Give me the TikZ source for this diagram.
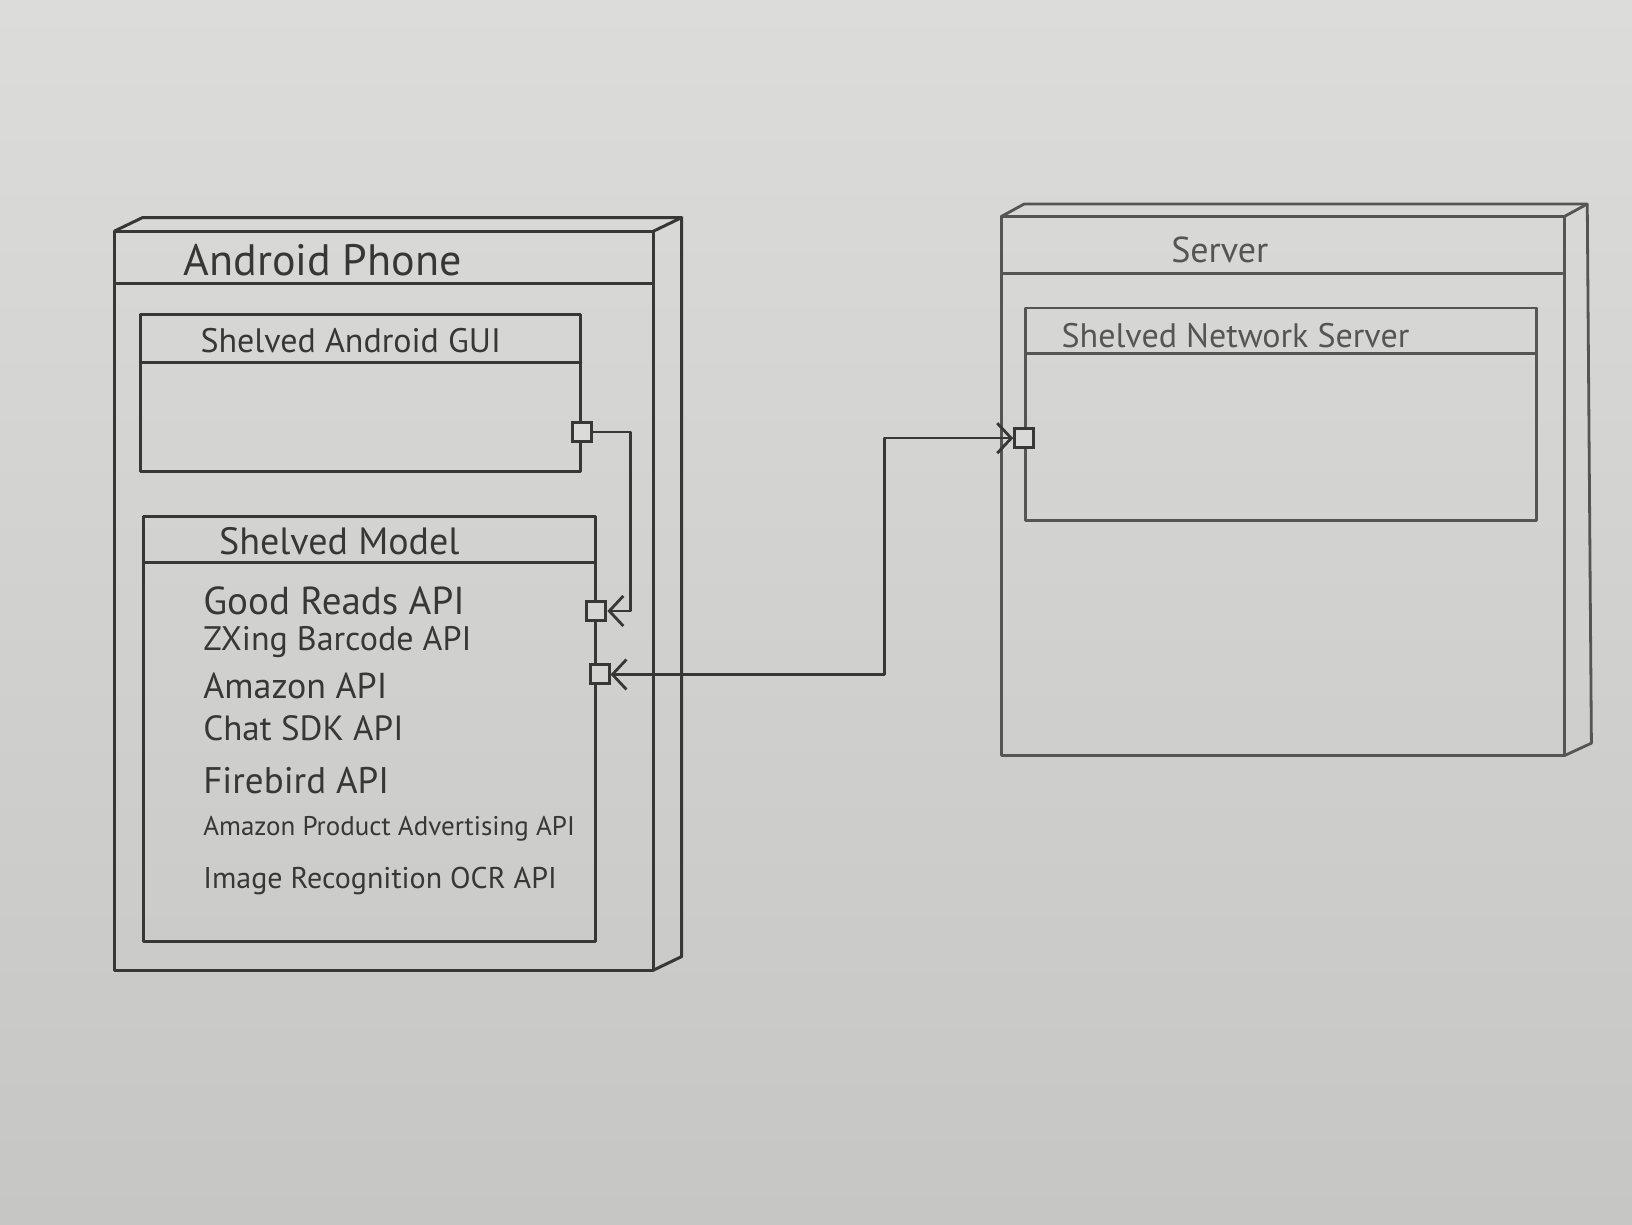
\documentclass[tikz,border=0pt]{standalone}
\usepackage{fontspec}
\setmainfont{PT Sans}
\usetikzlibrary{arrows.meta,fit,calc}
\definecolor{paperTop}{RGB}{220,220,218}
\definecolor{paperBot}{RGB}{198,198,196}
\definecolor{pencil}{RGB}{55,55,55}
\definecolor{pencilLight}{RGB}{85,85,85}
\tikzset{
  pen/.style={draw=pencil, line width=1.5pt, line cap=round, line join=round},
  penlight/.style={draw=pencilLight, line width=1.4pt, line cap=round, line join=round},
  fitbox/.style={inner sep=0pt, outer sep=0pt},
  portbox/.style={draw=pencil, line width=1.5pt, minimum size=9.5pt, inner sep=0pt},
  conn/.style={draw=pencil, line width=1.3pt, line join=round},
  barb/.tip={Straight Barb[length=7pt,width=15pt,line width=1.4pt]},
  ttl/.style={text=pencil, font=\fontsize{22}{24}\selectfont},
  ctl/.style={text=pencil, font=\fontsize{17}{19}\selectfont},
  api/.style={text=pencil, anchor=west, inner sep=0pt}
}
\newcommand\fsz[1]{\fontsize{#1}{#1}\selectfont}
\begin{document}
\begin{tikzpicture}[x=0.5204pt,y=-0.5204pt]
\shade[top color=paperTop, bottom color=paperBot] (0,0) rectangle (1568,1176);
\useasboundingbox (0,0) rectangle (1568,1176);

% ---------- Android Phone node ----------
\node[fitbox, fit={(110,222) (628,932)}] (phone) {};
\draw[pen] (phone.north west) rectangle (phone.south east);
\draw[pen] (phone.north west) -- ++(27,-13) -- ($(phone.north east)+(27,-13)$)
           -- ($(phone.south east)+(27,-13)$) -- (phone.south east);
\draw[pen] (phone.north east) -- ++(27,-13);
\draw[pen] (112,272) -- (626,272);
\node[ttl] (phoneTitle) at (310,250) {Android Phone};

% Shelved Android GUI
\node[fitbox, fit={(135,302) (558,453)}] (gui) {};
\draw[pen] (gui.north west) rectangle (gui.south east);
\draw[pen] (135,348) -- (558,348);
\node[ctl] (guiTitle) at (337,327) {Shelved Android GUI};
\node[portbox, fill=paperTop!97!paperBot] (guiport) at (559,415) {};

% Shelved Model
\node[fitbox, fit={(138,496) (572,905)}] (model) {};
\draw[pen] (model.north west) rectangle (model.south east);
\draw[pen] (138,540) -- (572,540);
\node[ctl, font=\fontsize{19}{21}\selectfont] (modelTitle) at (326,520) {Shelved Model};
\node[portbox, fill=paperTop!70!paperBot] (mport1) at (573,587) {};
\node[portbox, fill=paperTop!65!paperBot] (mport2) at (576,648) {};

\node[api, font=\fsz{19.5}] (a1) at (195,577) {Good Reads API};
\node[api, font=\fsz{17}] (a2) at (195,617) {ZXing Barcode API};
\node[api, font=\fsz{18}] (a3) at (195,659) {Amazon API};
\node[api, font=\fsz{17.5}] (a4) at (195,700) {Chat SDK API};
\node[api, font=\fsz{18.5}] (a5) at (195,750) {Firebird API};
\node[api, font=\fsz{13.5}] (a6) at (195,796) {Amazon Product Advertising API};
\node[api, font=\fsz{15}] (a7) at (195,846) {Image Recognition OCR API};

% ---------- Server node ----------
\node[fitbox, fit={(962,208) (1503,726)}] (server) {};
\draw[penlight] (server.north west) rectangle (server.south east);
\draw[penlight] (server.north west) -- ++(22,-12) -- ($(server.north east)+(22,-12)$)
           -- ($(server.south east)+(26,-12)$) -- (server.south east);
\draw[penlight] (server.north east) -- ++(22,-12);
\draw[penlight] (962,263) -- (1501,263);
\node[ttl, text=pencilLight, font=\fontsize{18}{20}\selectfont] (serverTitle) at (1172,240) {Server};

% Shelved Network Server
\node[fitbox, fit={(985,296) (1476,500)}] (net) {};
\draw[penlight] (net.north west) rectangle (net.south east);
\draw[penlight] (985,340) -- (1476,340);
\node[ctl, text=pencilLight, font=\fontsize{17}{19}\selectfont] (netTitle) at (1187,322) {Shelved Network Server};
\node[portbox, fill=paperTop!85!paperBot] (sport) at (984,421) {};

% ---------- Connectors ----------
\coordinate (bend1) at (606,0);
\coordinate (bend2) at (850,0);
\draw[conn, -{barb}] (guiport.east) -| (bend1 |- mport1.east) -- (mport1.east);
\draw[conn, {barb}-{barb}] (mport2.east) -| (bend2 |- sport.west) -- (sport.west);
\end{tikzpicture}
\end{document}
